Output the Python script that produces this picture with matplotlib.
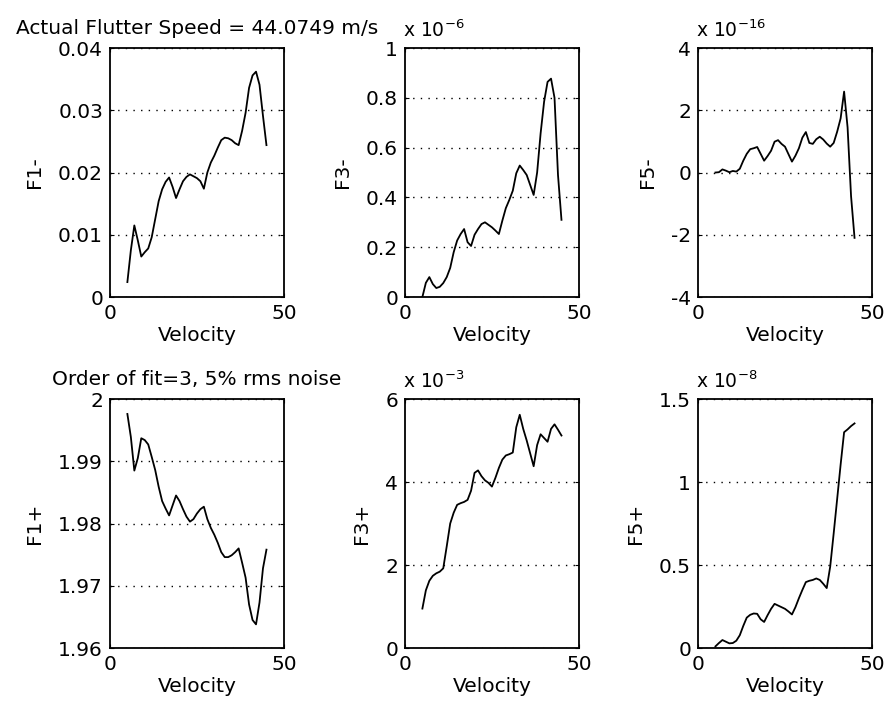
import numpy as np
import matplotlib.pyplot as plt
from matplotlib.ticker import FuncFormatter

plt.rcParams['font.family'] = 'DejaVu Sans'
plt.rcParams['font.size'] = 14.5

velocity = list(range(5, 46))

f1_minus = [0.0024, 0.0075, 0.0115, 0.0091, 0.0065, 0.0072, 0.0078, 0.0096, 0.0125, 0.0154,
            0.0173, 0.0185, 0.0192, 0.0177, 0.0159, 0.0173, 0.0186, 0.0193, 0.0197, 0.0194,
            0.0191, 0.0186, 0.0174, 0.0200, 0.0216, 0.0227, 0.0240, 0.0252, 0.0256, 0.0255,
            0.0252, 0.0247, 0.0244, 0.0267, 0.0296, 0.0336, 0.0356, 0.0362, 0.0341, 0.0291, 0.0244]
# x 1e-6
f3_minus = [0.0, 0.057, 0.08, 0.052, 0.036, 0.041, 0.056, 0.08, 0.117, 0.18,
            0.227, 0.253, 0.273, 0.22, 0.205, 0.25, 0.273, 0.293, 0.30, 0.29,
            0.28, 0.267, 0.253, 0.307, 0.357, 0.39, 0.427, 0.497, 0.528, 0.51,
            0.49, 0.45, 0.41, 0.50, 0.657, 0.784, 0.864, 0.877, 0.80, 0.49, 0.31]
# x 1e-16
f5_minus = [0.0, 0.01, 0.10, 0.06, 0.01, 0.05, 0.03, 0.12, 0.38, 0.60,
            0.75, 0.78, 0.82, 0.60, 0.38, 0.53, 0.70, 0.99, 1.04, 0.92,
            0.83, 0.59, 0.35, 0.54, 0.78, 1.12, 1.30, 0.95, 0.92, 1.07,
            1.15, 1.06, 0.93, 0.83, 0.95, 1.31, 1.74, 2.60, 1.45, -0.76, -2.1]
f1_plus = [1.9976, 1.9939, 1.9885, 1.9905, 1.9937, 1.9934, 1.9927, 1.9907, 1.9886, 1.9859,
           1.9836, 1.9824, 1.9813, 1.9829, 1.9845, 1.9836, 1.9823, 1.9811, 1.9803, 1.9807,
           1.9816, 1.9823, 1.9827, 1.9807, 1.9793, 1.9782, 1.9769, 1.9754, 1.9746, 1.9746,
           1.9749, 1.9754, 1.9760, 1.9737, 1.9713, 1.9670, 1.9645, 1.9638, 1.9673, 1.9728, 1.9758]
# x 1e-3
f3_plus = [0.95, 1.39, 1.62, 1.74, 1.80, 1.84, 1.92, 2.45, 3.0, 3.26,
           3.45, 3.49, 3.52, 3.57, 3.79, 4.22, 4.28, 4.14, 4.04, 3.98,
           3.89, 4.10, 4.34, 4.54, 4.64, 4.67, 4.71, 5.32, 5.62, 5.28,
           5.0, 4.69, 4.38, 4.89, 5.15, 5.06, 4.97, 5.28, 5.39, 5.26, 5.12]
# x 1e-8
f5_plus = [0.01, 0.03, 0.048, 0.038, 0.028, 0.03, 0.044, 0.077, 0.133, 0.183,
           0.20, 0.208, 0.206, 0.173, 0.157, 0.198, 0.236, 0.266, 0.256, 0.246,
           0.236, 0.22, 0.202, 0.246, 0.30, 0.35, 0.397, 0.405, 0.41, 0.419,
           0.41, 0.387, 0.361, 0.49, 0.69, 0.897, 1.105, 1.30, 1.317, 1.337, 1.353]

series = [f1_minus, f3_minus, f5_minus, f1_plus, f3_plus, f5_plus]
ylabels = ['F1-', 'F3-', 'F5-', 'F1+', 'F3+', 'F5+']
exponents = [None, -6, -16, None, -3, -8]
yticks = [[0, 0.01, 0.02, 0.03, 0.04], [0, 0.2, 0.4, 0.6, 0.8, 1], [-4, -2, 0, 2, 4],
          [1.96, 1.97, 1.98, 1.99, 2], [0, 2, 4, 6], [0, 0.5, 1, 1.5]]
titles = ['Actual Flutter Speed = 44.0749 m/s', None, None,
          'Order of fit=3, 5% rms noise', None, None]

fig = plt.figure(figsize=(8.87, 7.01), dpi=100)
lefts = [0.124, 0.4566, 0.787]
bottoms = [0.5763, 0.0756]

fmt = FuncFormatter(lambda v, p: '%g' % v)

for i in range(6):
    ax = fig.add_axes([lefts[i % 3], bottoms[i // 3], 0.196, 0.3552])
    ax.plot(velocity, series[i], color='black', linewidth=1.3)
    ax.set_xlim(0, 50)
    ax.set_xticks([0, 50])
    ax.set_ylim(yticks[i][0], yticks[i][-1])
    ax.set_yticks(yticks[i])
    ax.yaxis.set_major_formatter(fmt)
    ax.xaxis.set_major_formatter(fmt)
    ax.grid(axis='y', color='black', linestyle=(0, (1, 4.5)), linewidth=1.0)
    ax.tick_params(direction='in', length=3, right=True, top=True, pad=5)
    for s in ax.spines.values():
        s.set_linewidth(1.3)
    ax.set_xlabel('Velocity', labelpad=2)
    ax.set_ylabel(ylabels[i], labelpad=10)
    if titles[i]:
        ax.set_title(titles[i], fontsize=14.5, pad=10)
    if exponents[i] is not None:
        ax.text(-0.01, 1.045, 'x 10$^{%d}$' % exponents[i], transform=ax.transAxes,
                ha='left', va='baseline', fontsize=13.5)

fig.savefig('out.png', dpi=100)
